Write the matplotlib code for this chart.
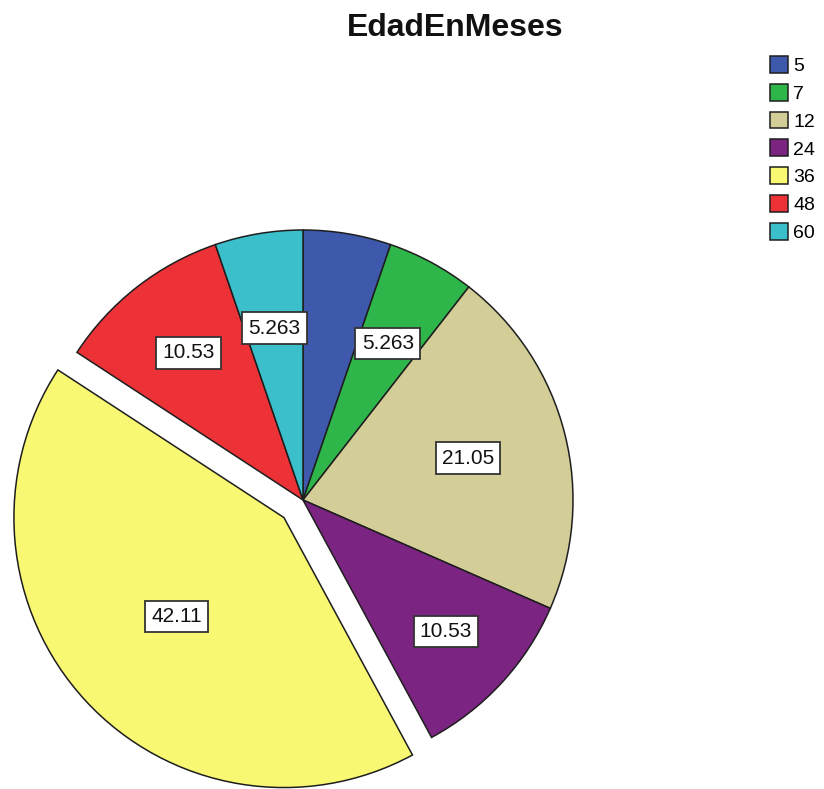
import matplotlib
matplotlib.use("Agg")
import matplotlib.pyplot as plt
import numpy as np

plt.rcParams['font.family'] = ['Liberation Sans', 'DejaVu Sans']

# Percent of cases per age (months)
ages = ['5', '7', '12', '24', '36', '48', '60']
pct = [5.263, 5.263, 21.05, 10.53, 42.11, 10.53, 5.263]
colors = ['#3e58ac', '#2fb64a', '#d3ce97', '#7c2482', '#f9f873', '#ec3237', '#3bbfca']
explode = [0, 0, 0, 0, 0.096, 0, 0]   # fraction of radius
# radial position of each value box, as a fraction of the radius (None = no box)
lab_dist = [None, 0.66, 0.63, 0.72, 0.54, 0.69, 0.645]

fig = plt.figure(figsize=(8.24, 7.89), dpi=100)
ax = fig.add_axes([0, 0, 1, 1])

R = 270
# pie's explode offset is in data units, so scale by the radius
wedges, _ = ax.pie(pct, colors=colors, explode=[e * R for e in explode],
                   startangle=90, counterclock=False, center=(303, 289), radius=R,
                   wedgeprops=dict(edgecolor='#1e1e1e', linewidth=1.1))

ax.set_xlim(0, 824)
ax.set_ylim(0, 789)
ax.set_aspect('equal')
ax.axis('off')

for w, v, d in zip(wedges, pct, lab_dist):
    if d is None:
        continue
    th = np.deg2rad((w.theta1 + w.theta2) / 2)
    cx, cy = w.center
    ax.text(cx + d * R * np.cos(th), cy + d * R * np.sin(th), f"{v:.4g}",
            ha='center', va='center', fontsize=15, color='#111111',
            bbox=dict(boxstyle='square,pad=0.3', facecolor='white',
                      edgecolor='#333333', linewidth=1.3))

ax.text(455, 789 - 28, 'EdadEnMeses', ha='center', va='center',
        fontsize=23, fontweight='bold', color='#111111')

leg = ax.legend(wedges, ages, loc='upper left', bbox_to_anchor=(770, 789 - 56),
                bbox_transform=ax.transData, frameon=False, fontsize=14,
                handlelength=0.95, handleheight=0.95, handletextpad=0.25,
                labelspacing=0.45, borderpad=0, borderaxespad=0)

fig.savefig('out.png', dpi=100)
